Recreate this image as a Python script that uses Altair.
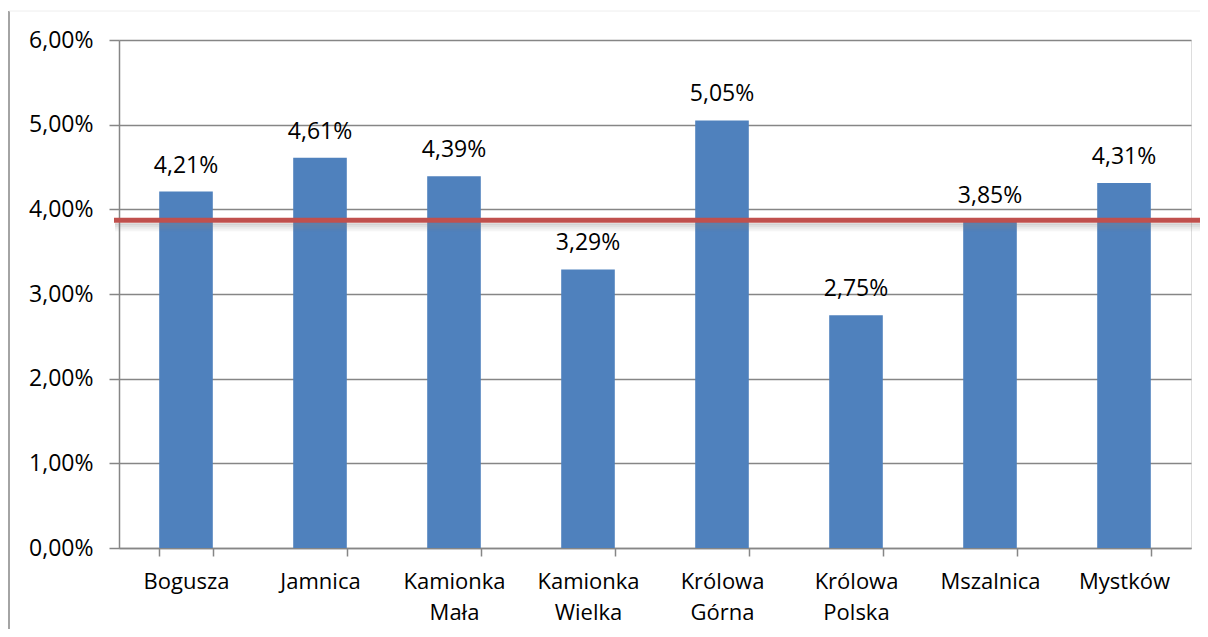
import altair as alt
import pandas as pd

categories = ["Bogusza", "Jamnica", "Kamionka Mała", "Kamionka Wielka",
              "Królowa Górna", "Królowa Polska", "Mszalnica", "Mystków"]
values = [0.0421, 0.0461, 0.0439, 0.0329, 0.0505, 0.0275, 0.0385, 0.0431]
average = 0.0387
y_ticks = [0, 0.01, 0.02, 0.03, 0.04, 0.05, 0.06]

df = pd.DataFrame({"cat": categories, "val": values})
df["lab"] = [f"{v*100:.2f}%".replace(".", ",") for v in values]
avg_df = pd.DataFrame({"avg": [average]})

FONT = "Open Sans"
FS = 23
W, H = 1072, 508

x_enc = alt.X("cat:N", sort=categories, title=None,
              scale=alt.Scale(paddingInner=0.6, paddingOuter=0.3),
              axis=alt.Axis(labelExpr="split(datum.label, ' ')", labelAngle=0,
                            labelFontSize=22, labelFont=FONT, labelColor="#000000",
                            labelLineHeight=31, labelPadding=15, tickBand="extent",
                            tickSize=8, tickColor="#868686", domainColor="#868686",
                            tickWidth=1.5, domainWidth=1.5, grid=False))
y_scale = alt.Scale(domain=[0, 0.06], nice=False)

bars = alt.Chart(df).mark_bar(color="#4F81BD").encode(
    x=x_enc,
    y=alt.Y("val:Q", scale=y_scale, title=None,
            axis=alt.Axis(values=y_ticks,
                          labelExpr="replace(format(datum.value, '.2%'), '.', ',')",
                          labelFontSize=FS, labelFont=FONT, labelColor="#000000",
                          labelPadding=16, tickSize=10, tickColor="#868686",
                          domainColor="#868686", gridColor="#868686",
                          tickWidth=1.5, domainWidth=1.5, gridWidth=1.5)),
)

texts = alt.Chart(df).mark_text(baseline="alphabetic", dy=-19, fontSize=FS,
                                font=FONT, color="#000000").encode(
    x=alt.X("cat:N", sort=categories),
    y=alt.Y("val:Q", scale=y_scale),
    text="lab:N",
)

shadows = []
for off, op in [(4, 0.35), (6, 0.25), (8, 0.15), (10, 0.08)]:
    shadows.append(
        alt.Chart(avg_df).mark_rule(color="#808080", strokeWidth=2, opacity=op,
                                    clip=False, yOffset=off).encode(
            y=alt.Y("avg:Q", scale=y_scale),
            x=alt.value(-4), x2=alt.value(1100)))

avg_line = alt.Chart(avg_df).mark_rule(color="#C0504D", strokeWidth=5,
                                       clip=False).encode(
    y=alt.Y("avg:Q", scale=y_scale),
    x=alt.value(-5), x2=alt.value(1100))

border_left = alt.Chart(avg_df).mark_rule(color="#868686", strokeWidth=1.5,
                                          clip=False).encode(
    x=alt.value(-110), y=alt.value(-29), y2=alt.value(640))
border_top = alt.Chart(avg_df).mark_rule(color="#eeeeee", strokeWidth=1,
                                         clip=False).encode(
    x=alt.value(-110), x2=alt.value(1100), y=alt.value(-29))

chart = alt.layer(bars, texts, *shadows, avg_line, border_left, border_top).properties(
    width=W, height=H,
    padding={"left": 111, "top": 32, "right": 9, "bottom": 81},
    autosize=alt.AutoSizeParams(type="none"),
).configure_view(stroke=None).configure(background="white")

chart.save("out.html", embed_options={"renderer": "svg", "actions": False})
